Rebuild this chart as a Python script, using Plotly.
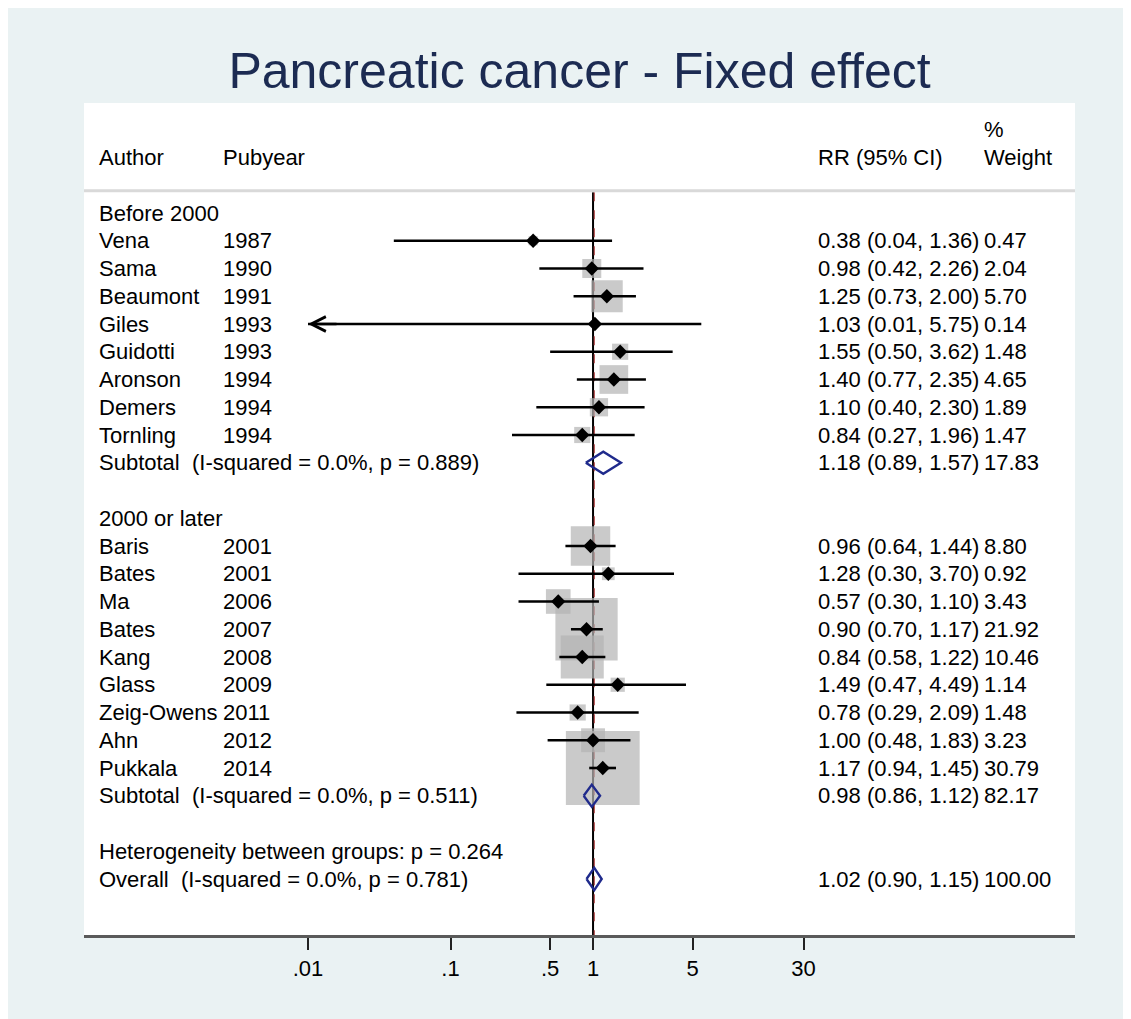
import numpy as np
import plotly.graph_objects as go

# ---- data -------------------------------------------------------------
authors = ["Vena", "Sama", "Beaumont", "Giles", "Guidotti", "Aronson",
           "Demers", "Tornling",
           "Baris", "Bates", "Ma", "Bates", "Kang", "Glass", "Zeig-Owens",
           "Ahn", "Pukkala"]
pubyears = ["1987", "1990", "1991", "1993", "1993", "1994", "1994", "1994",
            "2001", "2001", "2006", "2007", "2008", "2009", "2011", "2012",
            "2014"]
groups = ["Before 2000"] * 8 + ["2000 or later"] * 9
rr = [0.38, 0.98, 1.25, 1.03, 1.55, 1.40, 1.10, 0.84,
      0.96, 1.28, 0.57, 0.90, 0.84, 1.49, 0.78, 1.00, 1.17]
ci_low = [0.04, 0.42, 0.73, 0.01, 0.50, 0.77, 0.40, 0.27,
          0.64, 0.30, 0.30, 0.70, 0.58, 0.47, 0.29, 0.48, 0.94]
ci_high = [1.36, 2.26, 2.00, 5.75, 3.62, 2.35, 2.30, 1.96,
           1.44, 3.70, 1.10, 1.17, 1.22, 4.49, 2.09, 1.83, 1.45]
weights = [0.47, 2.04, 5.70, 0.14, 1.48, 4.65, 1.89, 1.47,
           8.80, 0.92, 3.43, 21.92, 10.46, 1.14, 1.48, 3.23, 30.79]

group_names = ["Before 2000", "2000 or later"]
sub_labels = ["Subtotal  (I-squared = 0.0%, p = 0.889)",
              "Subtotal  (I-squared = 0.0%, p = 0.511)"]
sub_rr = [1.18, 0.98]
sub_low = [0.89, 0.86]
sub_high = [1.57, 1.12]
sub_weight = [17.83, 82.17]

het_label = "Heterogeneity between groups: p = 0.264"
overall_label = "Overall  (I-squared = 0.0%, p = 0.781)"
overall_rr = 1.02
overall_low = 0.90
overall_high = 1.15
overall_weight = 100.00

tick_vals = [0.01, 0.1, 0.5, 1, 5, 30]
tick_text = [".01", ".1", ".5", "1", "5", "30"]

# ---- row layout -------------------------------------------------------
study_rows, sub_rows, head_rows = [], [], []
row = 1
for g in group_names:
    head_rows.append(row)
    row += 1
    for gg in groups:
        if gg == g:
            study_rows.append(row)
            row += 1
    sub_rows.append(row)
    row += 2
het_row = row
overall_row = row + 1

FONT = "Arial, Liberation Sans, sans-serif"
FS = 22
TXT = "#000000"
BOX = "#b3b3b3"
NAVY = "#1f2a8c"

fig = go.Figure()

# null line and overall dashed line (drawn under the boxes)
fig.add_trace(go.Scatter(x=[1, 1], y=[0.25, 27.1], mode="lines",
                         line=dict(color="black", width=2),
                         hoverinfo="skip", showlegend=False))
fig.add_trace(go.Scatter(x=[overall_rr, overall_rr], y=[0.25, 27.1],
                         mode="lines",
                         line=dict(color="#b04545", width=1.2, dash="dash"),
                         hoverinfo="skip", showlegend=False))

# weight boxes (area ~ weight)
fig.add_trace(go.Scatter(
    x=rr, y=study_rows, mode="markers",
    marker=dict(symbol="square", color=BOX,
                size=[13.3 * np.sqrt(w) for w in weights],
                line=dict(width=0)),
    hoverinfo="skip", showlegend=False))

# confidence intervals
ci_x, ci_y = [], []
for lo, hi, r in zip(ci_low, ci_high, study_rows):
    ci_x += [lo, hi, None]
    ci_y += [r, r, None]
fig.add_trace(go.Scatter(x=ci_x, y=ci_y, mode="lines",
                         line=dict(color="black", width=2.6),
                         hoverinfo="skip", showlegend=False))

# point estimates
fig.add_trace(go.Scatter(x=rr, y=study_rows, mode="markers",
                         marker=dict(symbol="diamond", color="black", size=11),
                         hoverinfo="skip", showlegend=False))

# pooled diamonds
h = 0.4
for est, lo, hi, r in zip(sub_rr + [overall_rr], sub_low + [overall_low],
                          sub_high + [overall_high], sub_rows + [overall_row]):
    fig.add_trace(go.Scatter(x=[lo, est, hi, est, lo],
                             y=[r, r - h, r, r + h, r], mode="lines",
                             line=dict(color=NAVY, width=2.4),
                             hoverinfo="skip", showlegend=False))

# arrow for truncated CI (Giles)
for lo, r in zip(ci_low, study_rows):
    if lo <= 0.01:
        fig.add_annotation(x=np.log10(lo), y=r, ax=30, ay=0, text="",
                           showarrow=True, arrowhead=5, arrowsize=1.2,
                           arrowwidth=2.4, arrowcolor="black", standoff=0)

# ---- text columns ----------------------------------------------------
COL_AUTH, COL_YEAR, COL_RR, COL_W = 0.0131, 0.1383, 0.7387, 0.906


def txt(xp, y, s):
    fig.add_annotation(x=xp, xref="paper", y=y, yref="y", text=s,
                       showarrow=False, xanchor="left", yanchor="middle",
                       font=dict(family=FONT, size=FS, color=TXT))


def nb(s):
    return s.replace(" ", "\u00a0")


txt(COL_AUTH, -1, "Author")
txt(COL_YEAR, -1, "Pubyear")
txt(COL_RR, -1, nb("RR (95% CI)"))
txt(COL_W, -2, "%")
txt(COL_W, -1, "Weight")

for g, r in zip(group_names, head_rows):
    txt(COL_AUTH, r, nb(g))
for a, yr, est, lo, hi, w, r in zip(authors, pubyears, rr, ci_low, ci_high,
                                    weights, study_rows):
    txt(COL_AUTH, r, a)
    txt(COL_YEAR, r, yr)
    txt(COL_RR, r, nb(f"{est:.2f} ({lo:.2f}, {hi:.2f})"))
    txt(COL_W, r, f"{w:.2f}")
for lab, est, lo, hi, w, r in zip(sub_labels, sub_rr, sub_low, sub_high,
                                  sub_weight, sub_rows):
    txt(COL_AUTH, r, nb(lab))
    txt(COL_RR, r, nb(f"{est:.2f} ({lo:.2f}, {hi:.2f})"))
    txt(COL_W, r, f"{w:.2f}")
txt(COL_AUTH, het_row, nb(het_label))
txt(COL_AUTH, overall_row, nb(overall_label))
txt(COL_RR, overall_row,
    nb(f"{overall_rr:.2f} ({overall_low:.2f}, {overall_high:.2f})"))
txt(COL_W, overall_row, f"{overall_weight:.2f}")

# header separator
fig.add_shape(type="line", xref="paper", x0=0, x1=1, yref="y", y0=0.2, y1=0.2,
              line=dict(color="#d9d9d9", width=3))

fig.update_layout(
    width=1131, height=1019,
    margin=dict(l=76, r=64, t=95, b=92),
    paper_bgcolor="#eaf2f3", plot_bgcolor="white",
    title=dict(text="Pancreatic cancer - Fixed effect", x=0.5, xref="paper",
               xanchor="center", y=1 - 62 / 1019, yref="container",
               yanchor="middle",
               font=dict(family=FONT, size=50, color="#1c2b52")),
    xaxis=dict(type="log", range=[-3.572, 3.382], showgrid=False,
               zeroline=False, showline=True, linecolor="#5a5a5a",
               linewidth=3, ticks="outside", ticklen=12, tickwidth=1.5,
               tickcolor="#222222", tickvals=tick_vals, ticktext=tick_text,
               tickfont=dict(family=FONT, size=FS, color=TXT)),
    yaxis=dict(range=[27.018, -2.964], visible=False, showgrid=False,
               zeroline=False),
    showlegend=False,
)

fig.write_html("out.html")
